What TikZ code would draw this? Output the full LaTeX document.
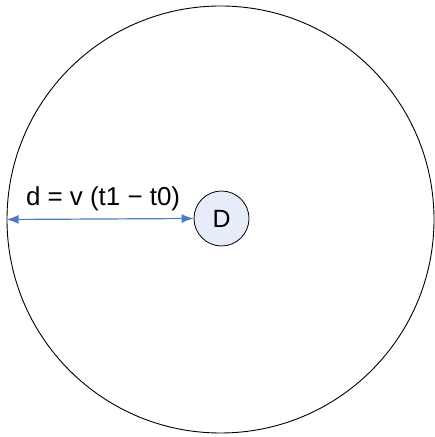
\documentclass[tikz,border=0pt]{standalone}
\usepackage{fontspec}
\setmainfont{Liberation Sans}
\usetikzlibrary{arrows.meta, positioning, calc}
\definecolor{arrowblue}{RGB}{79,124,196}
\definecolor{dotfill}{RGB}{230,236,248}

\begin{document}
\begin{tikzpicture}[
    x=1bp, y=1bp,
    outer/.style={draw, circle, minimum size=427bp, inner sep=0pt, line width=0.9bp},
    dot/.style={draw, circle, fill=dotfill, minimum size=55bp, inner sep=0pt, line width=0.8bp, font=\fontsize{25}{28}\selectfont},
    dist/.style={{Latex[length=12bp, width=9bp]}-{Latex[length=12bp, width=9bp]}, arrowblue, line width=1.2bp}
]
\useasboundingbox (0,0) rectangle (435,437);
\node[outer] (range) at (220.5,217.5) {};
\node[dot] (sender) at (221.5,218.5) {D};
\draw[dist] (range.west) -- node[above=4bp, xshift=3bp, text=black, font=\fontsize{26}{30}\selectfont]{d = v (t1 − t0)} (sender.west);
\end{tikzpicture}
\end{document}
